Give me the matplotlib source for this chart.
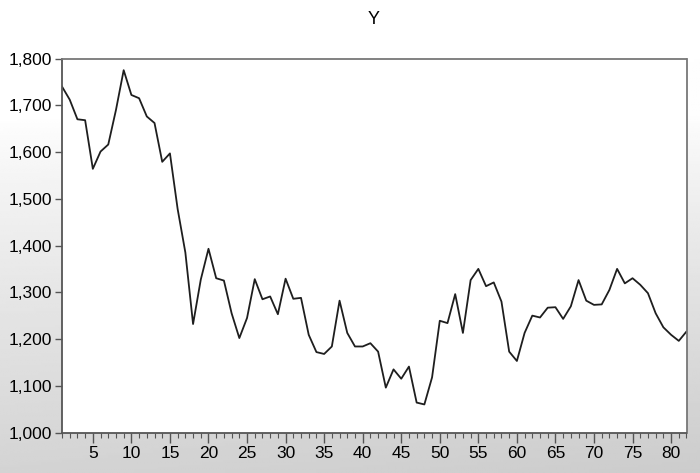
import numpy as np
import matplotlib
matplotlib.use("Agg")
import matplotlib.pyplot as plt
from matplotlib.ticker import MultipleLocator, FuncFormatter

plt.rcParams['font.family'] = ['Liberation Sans', 'DejaVu Sans']

# observations 1..82
obs = np.arange(1, 83)
y_vals = [
    1740, 1712, 1670, 1668, 1564, 1601, 1616, 1690, 1775, 1722,
    1715, 1676, 1662, 1579, 1597, 1478, 1385, 1232, 1327, 1393,
    1330, 1325, 1255, 1202, 1245, 1328, 1285, 1291, 1253, 1329,
    1286, 1288, 1209, 1172, 1168, 1184, 1282, 1213, 1184, 1184,
    1191, 1173, 1096, 1135, 1115, 1141, 1064, 1060, 1118, 1239,
    1234, 1296, 1213, 1326, 1350, 1313, 1321, 1280, 1173, 1153,
    1213, 1250, 1246, 1267, 1268, 1243, 1270, 1326, 1282, 1273,
    1274, 1305, 1350, 1319, 1330, 1316, 1298, 1255, 1225, 1209,
    1196, 1216,
]
title = "Y"

fig = plt.figure(figsize=(7, 4.73), dpi=100)

# grey gradient backdrop
bg = fig.add_axes([0, 0, 1, 1], zorder=-10)
rows = np.linspace(0, 1, 200)[:, None]
cols = np.linspace(0, 1, 300)[None, :]
shade = 1 - 0.17 * np.clip((rows - 0.25) / 0.75, 0, 1) ** 0.8 - 0.03 * cols * rows
bg.imshow(shade, cmap="gray", vmin=0, vmax=1, aspect="auto",
          extent=[0, 1, 1, 0])
bg.axis("off")

ax = fig.add_axes([62 / 700, 1 - 432.5 / 473, 624.5 / 700, 374 / 473])
ax.set_facecolor("white")
ax.plot(obs, y_vals, color="#1e1e1e", lw=1.3)

ax.set_xlim(1, 82)
ax.set_ylim(1000, 1800)
ax.xaxis.set_major_locator(MultipleLocator(5))
ax.xaxis.set_minor_locator(MultipleLocator(1))
ax.yaxis.set_major_locator(MultipleLocator(100))
ax.yaxis.set_major_formatter(FuncFormatter(lambda v, p: f"{int(v):,}"))

ax.tick_params(axis="x", which="major", direction="out", length=7,
               width=1, color="#555555", labelsize=12.5, pad=3)
ax.tick_params(axis="x", which="minor", direction="out", length=3.5,
               width=0.8, color="#555555")
ax.tick_params(axis="y", direction="out", length=5, width=1,
               color="#555555", labelsize=12.5, pad=2)

for side in ["left", "bottom"]:
    ax.spines[side].set_color("#555555")
    ax.spines[side].set_linewidth(1.3)
for side in ["top", "right"]:
    ax.spines[side].set_color("#777777")
    ax.spines[side].set_linewidth(1.3)

fig.text(374 / 700, 1 - 20 / 473, title, ha="center", va="center",
         fontsize=13)

fig.savefig("out.png", dpi=100)
